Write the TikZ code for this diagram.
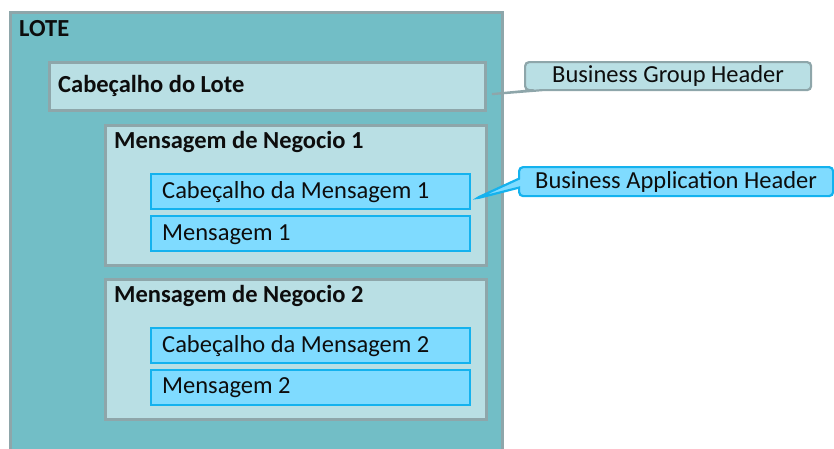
\documentclass[tikz,border=0pt]{standalone}
\usepackage{fontspec}
\setmainfont{Carlito}
\usetikzlibrary{shapes.callouts,calc}
\definecolor{lotefill}{HTML}{72BEC6}
\definecolor{grayline}{HTML}{8EA6AA}
\definecolor{palefill}{HTML}{B9DFE4}
\definecolor{bluefill}{HTML}{7FDBFF}
\definecolor{blueline}{HTML}{14B2EE}
\definecolor{ink}{HTML}{0D0D0D}
\tikzset{
  lotebox/.style={draw=grayline, line width=2.6pt, fill=lotefill, anchor=north west, inner sep=0pt},
  palebox/.style={draw=grayline, line width=2.6pt, fill=palefill, anchor=north west, inner sep=0pt},
  bluebox/.style={draw=blueline, line width=2.4pt, fill=bluefill, anchor=north west, inner sep=0pt},
  boldtxt/.style={anchor=base west, inner sep=0pt, text=ink, font=\fontsize{24.5}{28}\selectfont\bfseries},
  plaintxt/.style={anchor=base west, inner sep=0pt, text=ink, font=\fontsize{24.5}{28}\selectfont},
  callbase/.style={rectangle callout, rounded corners=4pt, line width=2.2pt, inner sep=0pt, anchor=north west,
     callout pointer width=9pt, text=ink, font=\fontsize{24.5}{28}\selectfont},
}
\begin{document}
\begin{tikzpicture}[x=1pt,y=-1pt]
\useasboundingbox (0,0) rectangle (834,448);
% outer LOTE
\node[lotebox, minimum width=492pt, minimum height=460pt] (lote) at (9,11) {};
\node[boldtxt] (lotet) at (19,36) {LOTE};
% Cabecalho do Lote
\node[palebox, minimum width=436pt, minimum height=48pt] (cl) at (48,61) {};
\node[boldtxt] (clt) at (58,92) {Cabeçalho do Lote};
% Mensagem de Negocio 1
\node[palebox, minimum width=381pt, minimum height=140pt] (mn1) at (104,124) {};
\node[boldtxt] (mn1t) at (114,148) {Mensagem de Negocio 1};
\node[bluebox, minimum width=319pt, minimum height=35pt] (cm1) at (150,173) {};
\node[plaintxt] (cm1t) at (162,198) {Cabeçalho da Mensagem 1};
\node[bluebox, minimum width=319pt, minimum height=35pt] (m1) at (150,215) {};
\node[plaintxt] (m1t) at (162,240) {Mensagem 1};
% Mensagem de Negocio 2
\node[palebox, minimum width=381pt, minimum height=140pt] (mn2) at (104,278) {};
\node[boldtxt] (mn2t) at (114,302) {Mensagem de Negocio 2};
\node[bluebox, minimum width=319pt, minimum height=35pt] (cm2) at (150,327) {};
\node[plaintxt] (cm2t) at (162,352) {Cabeçalho da Mensagem 2};
\node[bluebox, minimum width=319pt, minimum height=35pt] (m2) at (150,369) {};
\node[plaintxt] (m2t) at (162,393) {Mensagem 2};
% callouts
\node[callbase, draw=grayline, fill=palefill, minimum width=286pt, minimum height=28pt,
  callout absolute pointer={($(cl.east)+(3pt,-8pt)$)}] (bgh) at (524,61) {Business Group Header};
\node[callbase, draw=blueline, fill=bluefill, minimum width=314pt, minimum height=29pt,
  callout absolute pointer={($(cm1.east)+(4pt,-7pt)$)}] (bah) at (518,166) {Business Application Header};
\end{tikzpicture}
\end{document}
